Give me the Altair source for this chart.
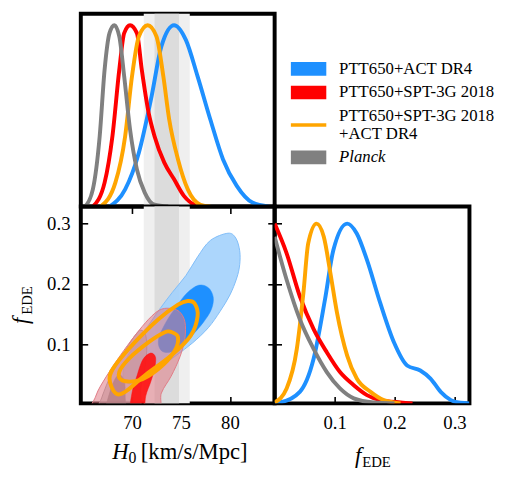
import altair as alt
import pandas as pd

FONT = "Liberation Serif"

# ---------------- data ----------------
series_labels = ["PTT650+ACT DR4", "PTT650+SPT-3G 2018", "PTT650+SPT-3G 2018\n+ACT DR4", "Planck"]
series_colors = ["#1e90ff", "#ff0000", "#ffa500", "#808080"]

h0_ticks = [70, 75, 80]
f_ticks = [0.1, 0.2, 0.3]

# SH0ES band (2 sigma, 1 sigma)
shoes_lo = [71.2, 72.3]
shoes_hi = [75.9, 74.8]

# 1D posteriors of H0 (peak normalised)
h0_blue_x = [67.7, 69.3, 70.7, 72.0, 73.0, 74.3, 75.5, 76.7, 78.0, 79.3, 80.7, 82.3, 84.0]
h0_blue_p = [0.0, 0.095, 0.297, 0.608, 0.883, 1.0, 0.919, 0.718, 0.48, 0.26, 0.114, 0.022, 0.0]
h0_red_x = [66.0, 67.2, 68.0, 68.7, 69.2, 69.8, 70.5, 71.0, 71.7, 72.3, 73.3, 74.3, 75.3, 76.7, 77.5]
h0_red_p = [0.0, 0.132, 0.388, 0.754, 0.956, 1.0, 0.956, 0.754, 0.516, 0.388, 0.242, 0.15, 0.059, 0.005, 0.0]
h0_orange_x = [66.8, 68.3, 69.3, 70.0, 70.7, 71.6, 72.5, 73.2, 73.8, 74.7, 75.7, 77.0, 78.0]
h0_orange_p = [0.0, 0.132, 0.388, 0.718, 0.938, 1.0, 0.938, 0.718, 0.48, 0.26, 0.095, 0.01, 0.0]
h0_grey_x = [65.2, 66.0, 66.7, 67.2, 67.7, 68.2, 68.7, 69.2, 69.8, 70.5, 71.3, 72.3, 73.7]
h0_grey_p = [0.0, 0.095, 0.388, 0.754, 0.956, 1.0, 0.938, 0.718, 0.425, 0.205, 0.077, 0.01, 0.0]

# 1D posteriors of f_EDE
f_blue_x = [0.0, 0.009, 0.042, 0.065, 0.084, 0.098, 0.121, 0.137, 0.154, 0.176, 0.199, 0.221, 0.243, 0.260, 0.277, 0.294, 0.31, 0.325]
f_blue_p = [0.002, 0.005, 0.064, 0.248, 0.578, 0.853, 1.0, 0.945, 0.798, 0.56, 0.34, 0.211, 0.183, 0.138, 0.064, 0.018, 0.003, 0.0]
f_red_x = [0.0, 0.020, 0.042, 0.065, 0.087, 0.109, 0.132, 0.154, 0.176, 0.21, 0.23]
f_red_p = [1.0, 0.835, 0.596, 0.413, 0.284, 0.174, 0.101, 0.046, 0.018, 0.005, 0.0]
f_orange_x = [0.0, 0.02, 0.037, 0.048, 0.056, 0.070, 0.082, 0.093, 0.104, 0.121, 0.137, 0.160, 0.182, 0.198, 0.21]
f_orange_p = [0.005, 0.083, 0.303, 0.615, 0.89, 1.0, 0.927, 0.725, 0.505, 0.266, 0.138, 0.064, 0.018, 0.005, 0.0]
f_grey_x = [0.0, 0.020, 0.042, 0.065, 0.087, 0.109, 0.132, 0.165, 0.2]
f_grey_p = [0.927, 0.688, 0.468, 0.303, 0.174, 0.083, 0.028, 0.005, 0.0]

# 2D contours (H0, f_EDE)
blue_out_h0 = [79.8, 80.6, 81.0, 81.0, 80.7, 80.0, 79.0, 77.8, 76.2, 74.5, 72.8, 71.2, 69.8, 69.1, 69.4, 70.4, 71.6, 72.8, 74.1, 75.5, 76.7, 78.0]
blue_out_f = [0.284, 0.276, 0.255, 0.232, 0.210, 0.182, 0.155, 0.128, 0.103, 0.082, 0.062, 0.045, 0.035, 0.048, 0.075, 0.103, 0.130, 0.158, 0.186, 0.214, 0.245, 0.272]
blue_in_h0 = [76.8, 77.8, 78.3, 78.1, 77.3, 76.3, 75.2, 74.0, 73.0, 72.7, 73.4, 74.5, 75.6]
blue_in_f = [0.198, 0.194, 0.178, 0.158, 0.137, 0.118, 0.100, 0.088, 0.090, 0.108, 0.135, 0.162, 0.185]
grey_out_h0 = [70.9, 71.4, 71.5, 71.3, 70.9, 70.5, 66.4, 66.9, 68.0, 69.4, 70.3]
grey_out_f = [0.124, 0.115, 0.090, 0.060, 0.030, -0.02, -0.02, 0.012, 0.055, 0.093, 0.115]
grey_in_h0 = [68.6, 69.2, 69.3, 69.2, 67.3, 67.8]
grey_in_f = [0.050, 0.040, 0.015, -0.02, -0.02, 0.025]
red_out_h0 = [73.8, 74.8, 75.4, 75.4, 74.9, 74.0, 73.0, 72.3, 66.0, 66.3, 67.4, 68.8, 70.3, 71.7, 72.8]
red_out_f = [0.160, 0.155, 0.138, 0.110, 0.080, 0.048, 0.020, -0.02, -0.02, 0.015, 0.048, 0.082, 0.115, 0.142, 0.157]
red_in_h0 = [71.9, 72.4, 72.3, 71.9, 71.4, 71.1, 69.8, 70.0, 70.5, 71.1]
red_in_f = [0.086, 0.079, 0.060, 0.038, 0.015, -0.02, -0.02, 0.020, 0.048, 0.075]
orange_out_h0 = [75.7, 76.4, 76.7, 76.0, 74.0, 71.3, 69.3, 68.3, 67.7, 68.3, 70.3, 72.7, 74.7]
orange_out_f = [0.172, 0.168, 0.147, 0.115, 0.082, 0.049, 0.022, 0.020, 0.044, 0.066, 0.104, 0.142, 0.166]
orange_in_h0 = [74.0, 74.7, 74.3, 72.7, 70.7, 69.0, 68.7, 69.7, 71.7, 73.3]
orange_in_f = [0.121, 0.112, 0.088, 0.060, 0.041, 0.041, 0.055, 0.077, 0.104, 0.120]

# ---------------- layout constants ----------------
W = 197
W_R = 198
H_TOP = 196
H = 200
H0_DOMAIN = [64.77, 84.57]
FX_DOMAIN = [0.0, 0.325]
FY_DOMAIN = [0.003, 0.328]
PT_DOMAIN = [0.0, 1.063]
PR_DOMAIN = [0.0, 1.095]

x_h0 = alt.Scale(domain=H0_DOMAIN, nice=False, zero=False)
y_f = alt.Scale(domain=FY_DOMAIN, nice=False, zero=False)
x_f = alt.Scale(domain=FX_DOMAIN, nice=False, zero=False)
y_pt = alt.Scale(domain=PT_DOMAIN, nice=False, zero=False)
y_pr = alt.Scale(domain=PR_DOMAIN, nice=False, zero=False)

ONE = pd.DataFrame({"d": [0]})


def axis(orient, values, labels, pad=9):
    return alt.Axis(orient=orient, values=values, labels=labels, ticks=True, tickSize=7,
                    tickWidth=1.6, tickColor="black", offset=-7, domain=False, grid=False,
                    title=None, labelFont=FONT, labelFontSize=19, labelColor="black",
                    labelPadding=pad, labelFlush=False, labelOverlap=False)


def long_df(xs_list, ps_list):
    rows = []
    for lab, xs, ps in zip(series_labels, xs_list, ps_list):
        for i, (x, p) in enumerate(zip(xs, ps)):
            rows.append({"series": lab, "i": i, "x": x, "p": p})
    return pd.DataFrame(rows)


def poly(xs, ys):
    return pd.DataFrame({"i": list(range(len(xs))), "h0": xs, "f": ys})


def text(t, x, y, size, italic=False, angle=0, align="left", baseline="alphabetic"):
    kw = dict(text=t, font=FONT, fontSize=size, align=align, baseline=baseline, color="black")
    if italic:
        kw["fontStyle"] = "italic"
    if angle:
        kw["angle"] = angle
    return alt.Chart(ONE).mark_text(**kw).encode(x=alt.value(x), y=alt.value(y))


color_lines = alt.Color("series:N", scale=alt.Scale(domain=series_labels, range=series_colors), legend=None)

band_df = pd.DataFrame({"lo": shoes_lo, "hi": shoes_hi, "k": [0, 1]})
band_cols = ["#efefef", "#dcdcdc"]


def bands(x_axis):
    light = alt.Chart(band_df).transform_filter("datum.k == 0").mark_rect(color=band_cols[0]).encode(
        x=alt.X("lo:Q", scale=x_h0, axis=x_axis), x2="hi:Q")
    dark = alt.Chart(band_df).transform_filter("datum.k == 1").mark_rect(color=band_cols[1]).encode(
        x=alt.X("lo:Q", scale=x_h0, axis=None), x2="hi:Q")
    return [light, dark]


# ---------------- top-left: H0 1D ----------------
h0_df = long_df([h0_blue_x, h0_red_x, h0_orange_x, h0_grey_x], [h0_blue_p, h0_red_p, h0_orange_p, h0_grey_p])
tl_lines = alt.Chart(h0_df).mark_line(strokeWidth=4, interpolate="monotone", clip=True).encode(
    x=alt.X("x:Q", scale=x_h0, axis=None),
    y=alt.Y("p:Q", scale=y_pt, axis=None),
    color=color_lines, order="i:Q")
tl = alt.layer(*bands(axis("bottom", h0_ticks, False)), tl_lines).properties(width=W, height=H_TOP)

# ---------------- legend panel ----------------
n_lines = [lab.count("\n") + 1 for lab in series_labels]
LINE_H, GAP, Y0 = 18, 6, 56
ypos = []
yy = Y0
for k, n in enumerate(n_lines):
    if k > 0:
        yy += (n_lines[k - 1] * LINE_H + n * LINE_H) / 2 + GAP
    ypos.append(yy)
ytext = [y - (n - 1) * LINE_H / 2 for y, n in zip(ypos, n_lines)]
leg_df = pd.DataFrame({"label": series_labels, "ypos": ypos, "ytext": ytext,
                       "italic": [lab == "Planck" for lab in series_labels]})
RECT = "M-1.3,-0.5H1.3V0.5H-1.3Z"
BAR = "M-1.3,-0.13H1.3V0.13H-1.3Z"
leg_scale = alt.Scale(domain=[0, H_TOP], range=[0, H_TOP])
leg_sym = alt.Chart(leg_df).mark_point(filled=True, size=767, opacity=1, strokeWidth=0).encode(
    x=alt.value(34.5), y=alt.Y("ypos:Q", scale=leg_scale, axis=None),
    color=alt.Color("label:N", scale=alt.Scale(domain=series_labels, range=series_colors), legend=None),
    shape=alt.Shape("label:N", scale=alt.Scale(domain=series_labels, range=[RECT, RECT, BAR, RECT]), legend=None))
leg_txt = alt.Chart(leg_df).transform_filter("!datum.italic").mark_text(
    align="left", baseline="middle", font=FONT, fontSize=17, lineBreak="\n", lineHeight=LINE_H, color="black").encode(
    x=alt.value(65.5), y=alt.Y("ytext:Q", scale=leg_scale, axis=None), text="label:N")
leg_txt_i = alt.Chart(leg_df).transform_filter("datum.italic").mark_text(
    align="left", baseline="middle", font=FONT, fontSize=17, fontStyle="italic", color="black").encode(
    x=alt.value(65.5), y=alt.Y("ytext:Q", scale=leg_scale, axis=None), text="label:N")
leg = alt.layer(leg_sym, leg_txt, leg_txt_i).properties(
    width=W_R, height=H_TOP, view=alt.ViewBackground(stroke="transparent"))

# ---------------- bottom-left: 2D ----------------


def contour(xs, ys, fill, fill_op, stroke, stroke_w, ax_x=None, ax_y=None, filled=True):
    kw = dict(interpolate="cardinal-closed", stroke=stroke, strokeWidth=stroke_w, clip=True)
    if filled:
        kw["fill"] = fill
        kw["fillOpacity"] = fill_op
    return alt.Chart(poly(xs, ys)).mark_line(**kw).encode(
        x=alt.X("h0:Q", scale=x_h0, axis=ax_x),
        y=alt.Y("f:Q", scale=y_f, axis=ax_y),
        order="i:Q")


bl_layers = bands(axis("bottom", h0_ticks, True, pad=11)) + [
    contour(blue_out_h0, blue_out_f, "#a3d1fc", 0.9, "#80bdf8", 1,
            ax_x=axis("top", h0_ticks, False), ax_y=axis("left", f_ticks, True, pad=11)),
    contour(blue_in_h0, blue_in_f, "#1e90ff", 1.0, "#1e90ff", 0.5, ax_y=axis("right", f_ticks, False)),
    contour(grey_out_h0, grey_out_f, "#b8b8b8", 0.7, "#a0a0a0", 1),
    contour(grey_in_h0, grey_in_f, "#858585", 0.8, "#858585", 0.5),
    contour(red_out_h0, red_out_f, "#e07a85", 0.55, "#e07a85", 1),
    contour(red_in_h0, red_in_f, "#ff1010", 0.9, "#ff1010", 0.5),
    contour(orange_out_h0, orange_out_f, None, 0, "#ffa500", 4, filled=False),
    contour(orange_in_h0, orange_in_f, None, 0, "#ffa500", 4, filled=False),
    text("H", 32, 257, 23, italic=True),
    text("0", 48.5, 261, 16),
    text("[km/s/Mpc]", 61, 257, 23),
    text("f", -54, 113, 23, italic=True, angle=270, align="right"),
    text("EDE", -50, 110, 15, angle=270, align="left"),
]
bl = alt.layer(*bl_layers).properties(width=W, height=H)

# ---------------- bottom-right: f_EDE 1D ----------------
f_df = long_df([f_blue_x, f_red_x, f_orange_x, f_grey_x], [f_blue_p, f_red_p, f_orange_p, f_grey_p])
p_tick_vals = [(t - FY_DOMAIN[0]) / (FY_DOMAIN[1] - FY_DOMAIN[0]) * PR_DOMAIN[1] for t in f_ticks]
br_lines = alt.Chart(f_df).mark_line(strokeWidth=4, interpolate="monotone", clip=True).encode(
    x=alt.X("x:Q", scale=x_f, axis=axis("bottom", f_ticks, True, pad=11)),
    y=alt.Y("p:Q", scale=y_pr, axis=axis("left", p_tick_vals, False)),
    color=color_lines, order="i:Q")
br = alt.layer(
    br_lines,
    text("f", 88, 261, 23, italic=True, align="right"),
    text("EDE", 89, 265, 15),
).properties(width=W_R, height=H)

chart = alt.concat(tl, leg, bl, br, columns=2, spacing=0, bounds="flush").resolve_scale(
    color="independent", shape="independent"
).properties(
    padding={"left": 0, "top": 0, "right": 0, "bottom": 0}
).configure_view(stroke="black", strokeWidth=4)

chart.save("out.html", embed_options={"renderer": "svg", "actions": False})
